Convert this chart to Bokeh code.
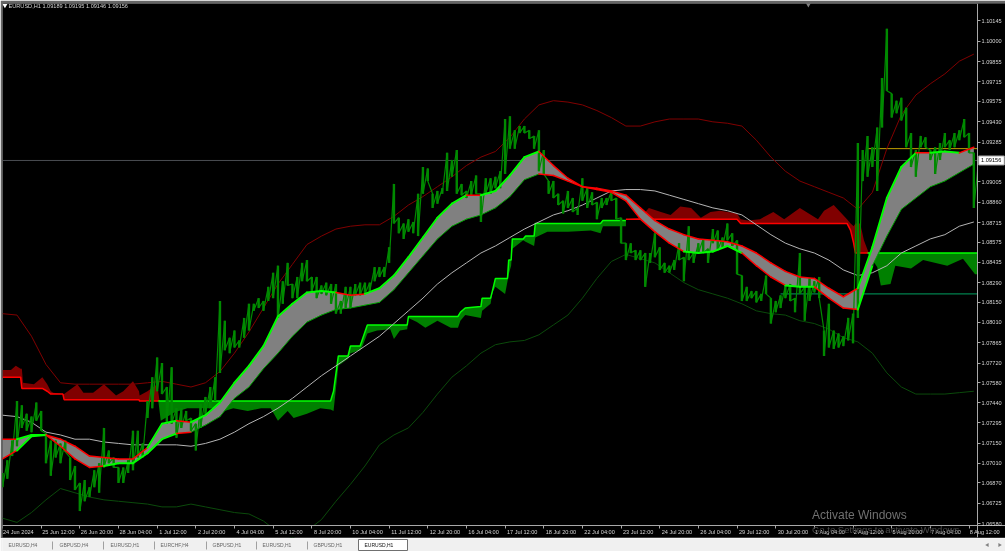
import numpy as np
from bokeh.plotting import figure
from bokeh.layouts import column
from bokeh.models import Range1d, FixedTicker, Label, LinearAxis
from bokeh.core.properties import value
from bokeh.embed import file_html
from bokeh.resources import INLINE

# all prices are held in pips (price * 10000); x is the bar number on the H1 chart
BAR_STEP = 4
HIGH = [10694,10703,10717,10745,10742,10736,10734,10744,10738,10722,
10717,10717,10715,10717,10705,10699,10687,10689,10684,10696,
10701,10726,10710,10705,10698,10698,10703,10724,10724,10715,
10745,10762,10776,10772,10755,10769,10740,10740,10738,10733,
10729,10743,10748,10755,10762,10816,10802,10790,10795,10788,
10804,10814,10814,10818,10816,10826,10836,10841,10830,10843,
10828,10833,10843,10845,10833,10833,10827,10829,10828,10828,
10816,10826,10826,10828,10829,10829,10829,10840,10840,10840,
10854,10899,10875,10871,10874,10872,10892,10911,10910,10892,
10894,10896,10921,10916,10923,10899,10894,10901,10905,10892,
10903,10903,10904,10908,10945,10947,10937,10940,10940,10937,
10933,10937,10923,10901,10901,10892,10887,10894,10889,10882,
10903,10896,10893,10886,10889,10889,10894,10889,10875,10857,
10857,10852,10852,10850,10850,10864,10854,10843,10841,10845,
10857,10847,10869,10850,10857,10860,10853,10867,10866,10861,
10871,10864,10859,10834,10826,10823,10823,10821,10834,10818,
10816,10820,10827,10828,10818,10850,10826,10832,10830,10833,
10795,10814,10795,10793,10791,10804,10807,10928,10923,10933,
10925,10939,10974,11009,10963,10958,10960,10953,10935,10923,
10933,10932,10923,10925,10928,10935,10930,10935,10937,10945,
10935,10921,10916]
LOW = [10684,10690,10706,10713,10726,10724,10723,10731,10724,10701,
10692,10705,10701,10709,10689,10682,10667,10674,10677,10684,
10680,10698,10701,10698,10687,10687,10694,10696,10705,10705,
10733,10740,10752,10750,10729,10729,10719,10726,10731,10724,
10710,10726,10736,10740,10745,10765,10781,10779,10783,10783,
10790,10795,10809,10811,10809,10816,10818,10804,10814,10827,
10818,10818,10830,10830,10823,10818,10821,10820,10814,10807,
10807,10811,10811,10820,10820,10821,10823,10830,10833,10833,
10843,10871,10864,10860,10865,10864,10862,10892,10901,10882,
10885,10892,10894,10904,10892,10891,10889,10891,10892,10872,
10892,10892,10896,10896,10906,10924,10924,10935,10935,10931,
10924,10908,10906,10892,10889,10884,10878,10882,10879,10877,
10887,10882,10884,10874,10882,10884,10887,10874,10857,10845,
10850,10845,10845,10826,10843,10847,10838,10836,10836,10838,
10845,10830,10845,10843,10850,10850,10843,10857,10852,10854,
10859,10855,10835,10816,10816,10818,10815,10816,10821,10800,
10808,10811,10818,10816,10808,10821,10802,10816,10822,10818,
10777,10783,10782,10783,10784,10788,10786,10804,10901,10904,
10911,10894,10939,10965,10946,10949,10944,10925,10911,10904,
10925,10925,10916,10906,10916,10925,10923,10925,10930,10932,
10921,10882,10907]

RIBBON_STEP = 12
RIBBON_UP = [10718,10718,10721,10721,10718,10713,10706,10705,10704,10704,
10712,10729,10731,10730,10735,10744,10758,10770,10784,10805,
10814,10822,10823,10822,10820,10821,10825,10834,10847,10861,
10875,10885,10891,10891,10894,10905,10918,10922,10912,10903,
10897,10896,10894,10891,10882,10873,10867,10863,10860,10859,
10858,10855,10850,10843,10837,10833,10832,10825,10819,10825,
10854,10889,10911,10921,10921,10922,10921,10925]
RIBBON_LO = [10704,10710,10720,10721,10713,10704,10698,10699,10701,10701,
10708,10718,10722,10723,10728,10734,10747,10755,10768,10779,
10791,10801,10806,10810,10811,10813,10815,10824,10836,10848,
10860,10869,10874,10877,10882,10890,10902,10906,10905,10901,
10897,10895,10893,10887,10874,10865,10857,10851,10850,10851,
10855,10850,10841,10833,10827,10826,10826,10818,10811,10810,
10841,10862,10881,10889,10897,10901,10907,10913]
# state of each ribbon edge between samples: r falling, l rising fast, g rising slow
UP_STATE = "r"+"ll"+"r"*7+"ll"+"r"+"l"*10+"rr"+"l"*7+"r"+"l"*4+"r"*22+"l"*4+"r"+"ll"+"r"
LO_STATE = "r"+"ll"+"r"*4+"l"*5+"r"+"g"*24+"r"*10+"l"*4+"rrr"+"ll"+"rrr"+"l"+"g"*7

BAND_MID = [10735,10734,10730,10723,10721,10718,10718,10716,10715,10714,
10714,10714,10714,10713,10715,10718,10723,10729,10734,10740,
10747,10755,10763,10770,10777,10784,10791,10800,10809,10818,
10828,10836,10843,10850,10855,10861,10867,10872,10877,10880,
10884,10889,10894,10895,10895,10894,10891,10888,10885,10882,
10880,10877,10870,10863,10857,10853,10850,10845,10838,10834,
10836,10841,10850,10855,10860,10863,10869,10872]
BAND_TOP = [10807,10806,10791,10771,10758,10757,10757,10757,10757,10757,
10758,10759,10757,10755,10758,10766,10779,10794,10811,10828,
10842,10856,10862,10867,10869,10870,10870,10876,10884,10890,
10897,10904,10912,10918,10922,10932,10945,10955,10958,10957,
10955,10951,10946,10940,10940,10943,10945,10945,10945,10943,
10942,10940,10930,10918,10908,10901,10897,10893,10889,10881,
10893,10924,10948,10962,10970,10977,10986,10991]
BAND_BOT = [10662,10659,10666,10675,10683,10680,10677,10675,10674,10673,
10672,10670,10670,10672,10670,10668,10666,10665,10660,10652,
10648,10653,10661,10674,10686,10699,10714,10721,10726,10737,
10750,10762,10770,10779,10785,10787,10788,10792,10799,10806,
10818,10832,10844,10849,10846,10843,10836,10829,10824,10821,
10818,10814,10809,10807,10806,10802,10800,10796,10790,10787,
10779,10765,10755,10750,10750,10750,10751,10752]

SUP1_X = [129,131,142,153,164,175,180,191,203,214,222,228,236,241,252,263,271.5,274,278,286,288,296,298,302,310,321,324,329,335,336,343,350,360,371,377,379,383,396,397,404,405.5,408,416,418,419,421,422,431,433,440,441,451,468,487,495,497,516]
SUP1_LEVEL = [10745]*17+[10752,10777,10777,10784,10784,10789,10799,10799,10799,10799,10799,10799,10805,10805,10805,10805,10805,10805,10808,10811,10812,10818,10818,10823,10832,10832,10832,10845,10845,10860,10860,10862,10862,10871,10871,10871,10871,10871,10873,10873]
SUP1_LOW = [10745,10731,10737,10740,10740,10740,10737,10740,10738,10740,10740,10731,10738,10733,10736,10740,10739,10738,10770,10775,10779,10781,10784,10793,10795,10796,10789,10795,10796,10804,10801,10797,10802,10797,10797,10802,10806,10804,10809,10814,10822,10826,10821,10830,10835,10841,10853,10859,10858,10855,10861,10865,10865,10866,10864,10869,10869]
SUP2_X = [716,724,727,735,739,752,762,782,795,805,807]
SUP2_LEVEL = [10850]*11
SUP2_LOW = [10850,10840,10827,10828,10841,10839,10845,10841,10846,10835,10835]

RES1_X = [0,7,11,15,16,17,26,33,37,40,42,50,51,62,67,75,84,94,100,108,113,113.5,120,128,130]
RES1_LEVEL = [10762,10762,10762,10762,10754,10754,10754,10754,10752,10750,10750,10750,10746,10746,10746,10746,10746,10746,10746,10746,10746,10745,10745,10745,10745]
RES1_TOP = [10767,10767,10770,10768,10768,10758,10757,10762,10757,10752,10751,10750,10750,10757,10751,10751,10757,10749,10752,10759,10752,10749,10752,10757,10745]
RES2_X = [516,528,535,545,553,561,570,578,586,594,608,611,617,627,638,647,660,675,680,688,699,702,704.5,706,710,713,717]
RES2_LEVEL = [10874]*11+[10871]*10+[10866,10857,10850,10850,10850,10850]
RES2_TOP = [10874,10875,10882,10879,10877,10883,10882,10875,10879,10880,10878,10874,10873,10874,10879,10874,10882,10874,10880,10884,10874,10871,10869,10871,10871,10859,10850]

LAST_PRICE = 1.09156
YELLOW_LEVEL, YELLOW_FROM = 1.0924, 716
TEAL_LEVEL, TEAL_FROM = 1.0821, 644
LEFT_BAR, RIGHT_BAR = 0, 807
AXIS_PRICE = 1.06568

TIME_LABELS = ["24 Jun 2024","25 Jun 12:00","26 Jun 20:00","28 Jun 04:00","1 Jul 12:00","2 Jul 20:00","4 Jul 04:00","5 Jul 12:00","8 Jul 20:00","10 Jul 04:00","11 Jul 12:00","12 Jul 20:00","16 Jul 04:00","17 Jul 12:00","18 Jul 20:00","22 Jul 04:00","23 Jul 12:00","24 Jul 20:00","26 Jul 04:00","29 Jul 12:00","30 Jul 20:00","1 Aug 04:00","2 Aug 12:00","5 Aug 20:00","7 Aug 04:00","8 Aug 12:00"]
TIME_TICK_STEP = 32
PRICE_TICKS = [1.10145,1.10000,1.09855,1.09715,1.09575,1.09430,1.09285,1.09005,1.08860,1.08715,1.08575,1.08435,1.08290,1.08150,1.08010,1.07865,1.07720,1.07580,1.07440,1.07295,1.07150,1.07010,1.06870,1.06725,1.06580]
TABS = ["EURUSD,H4","GBPUSD,H4","EURUSD,H1","EURCHF,H4","GBPUSD,H1","EURUSD,H1","GBPUSD,H1","EURUSD,H1"]

FONT = "Liberation Sans"
TXT = "#d4d4d4"
pr = lambda a: np.asarray(a, float) / 1e4

VIEW_X_END, VIEW_Y_START = 830.2, 1.06483
p = figure(width=1005, height=538, output_backend="svg", toolbar_location=None,
           x_range=Range1d(LEFT_BAR, VIEW_X_END), y_range=Range1d(VIEW_Y_START, 1.10269),
           y_axis_location="right", min_border_left=2, min_border_top=3,
           min_border_right=0, min_border_bottom=1,
           background_fill_color="#000000", border_fill_color="#666666",
           outline_line_color=None)
p.grid.visible = False

# resistance and support blocks
for xs, lev, ext, col, edge in [(RES1_X, RES1_LEVEL, RES1_TOP, "#800000", "#ff0000"),
                                (RES2_X, RES2_LEVEL, RES2_TOP, "#800000", "#ff0000"),
                                (SUP1_X, SUP1_LEVEL, SUP1_LOW, "#008000", "#00ff00"),
                                (SUP2_X, SUP2_LEVEL, SUP2_LOW, "#008000", "#00ff00")]:
    p.varea(xs, pr(lev), pr(ext), fill_color=col)
    p.line(xs, pr(lev), line_color=edge, line_width=1.5)

# horizontal levels
p.line([LEFT_BAR, RIGHT_BAR], [LAST_PRICE]*2, line_color="#4a4d52", line_width=1)
p.line([YELLOW_FROM, RIGHT_BAR], [YELLOW_LEVEL]*2, line_color="#c0a000", line_width=1)
p.line([TEAL_FROM, RIGHT_BAR], [TEAL_LEVEL]*2, line_color="#00a060", line_width=1)

# envelope lines
rx = np.arange(len(RIBBON_UP)) * RIBBON_STEP
p.line(rx, pr(BAND_TOP), line_color="#800000", line_width=1)
p.line(rx, pr(BAND_BOT), line_color="#0b4a0b", line_width=1)
p.line(rx, pr(BAND_MID), line_color="#b4b4b4", line_width=1)

# ribbon
p.varea(rx, pr(RIBBON_UP), pr(RIBBON_LO), fill_color="#808080")

# price: bar ranges, joined by a thin line
bars = np.arange(len(HIGH)) * BAR_STEP
p.segment(bars, pr(HIGH), bars, pr(LOW), line_color="#008a00", line_width=2.4)
zig_x = np.repeat(bars, 2)
zig_y = np.column_stack((HIGH, LOW)).ravel() / 1e4
p.line(zig_x, zig_y, line_color="#008a00", line_width=1.2)

# ribbon edges
col = {"r": "#ff0000", "l": "#00ff00", "g": "#00a000"}
wid = {"r": 1.5, "l": 2.0, "g": 1.0}
for edge, state in ((RIBBON_LO, LO_STATE), (RIBBON_UP, UP_STATE)):
    e = pr(edge)
    p.segment(rx[:-1], e[:-1], rx[1:], e[1:], line_color=[col[s] for s in state],
              line_width=[wid[s] for s in state], line_cap="round")

# the chart ends at the axes: keep the label margins black
p.quad(left=[RIGHT_BAR, LEFT_BAR], right=[VIEW_X_END, VIEW_X_END],
       bottom=[VIEW_Y_START, VIEW_Y_START], top=[1.10269, AXIS_PRICE],
       fill_color="#000000", line_color=None)

# axes sit at fixed places inside the frame so their margins can carry texts too
time_ticks = [i * TIME_TICK_STEP for i in range(len(TIME_LABELS))]
ax = p.xaxis[0]
ax.fixed_location = AXIS_PRICE
ax.ticker = FixedTicker(ticks=time_ticks)
ax.major_label_overrides = {t_: "" for t_ in time_ticks}
label_pos = [t_ + 1.0 + 1.1 * len(s) for t_, s in zip(time_ticks, TIME_LABELS)]
al = LinearAxis(ticker=FixedTicker(ticks=label_pos), fixed_location=AXIS_PRICE - 0.00018,
                major_label_overrides=dict(zip(label_pos, TIME_LABELS)),
                axis_line_color=None, major_tick_line_color=None, minor_tick_line_color=None,
                major_tick_in=0, major_tick_out=0, major_label_standoff=1,
                major_label_text_font=FONT, major_label_text_font_size="5.6px",
                major_label_text_color=TXT)
p.add_layout(al, "below")

ay = p.yaxis[0]
ay.fixed_location = RIGHT_BAR
ay.ticker = FixedTicker(ticks=PRICE_TICKS)
ay.major_label_overrides = {v: f"{v:.5f}" for v in PRICE_TICKS}
for a in (ax, ay):
    a.axis_line_color = "#a8a8a8"
    a.major_tick_line_color = "#a8a8a8"
    a.minor_tick_line_color = None
    a.major_tick_in = 0
    a.major_tick_out = 3
ay.major_label_standoff = 1
ay.major_label_text_font = FONT
ay.major_label_text_font_size = "5.6px"
ay.major_label_text_color = TXT

# small chrome on the chart
p.scatter([2], [1.10255], marker="inverted_triangle", size=5, fill_color="#ffffff", line_color=None)
p.scatter([667], [1.10266], marker="inverted_triangle", size=6, fill_color="#808080", line_color=None)
p.add_layout(Label(x=5, y=1.10254, text="EURUSD,H1  1.09189 1.09195 1.09146 1.09156", text_font=FONT,
                   text_font_size="5.6px", text_color=TXT, text_baseline="middle"))
p.quad(left=[RIGHT_BAR + 1], right=[VIEW_X_END - 1], bottom=[LAST_PRICE - 0.00032], top=[LAST_PRICE + 0.00032],
       fill_color="#ffffff", line_color="#a0a0a0", line_width=1)
p.text(x=[RIGHT_BAR + 3], y=[LAST_PRICE], text=["1.09156"], text_font=value(FONT), text_font_size="5.6px",
       text_color="#000000", text_baseline="middle")
p.add_layout(Label(x=670, y=1.0664, text="Activate Windows", text_font=FONT, text_font_size="12px",
                   text_color="#707070", text_baseline="middle"))
p.add_layout(Label(x=670, y=1.06541, text="Go to Settings to activate Windows.", text_font=FONT,
                   text_font_size="9.5px", text_color="#4a4a4a", text_baseline="middle"))

# tab strip: its frame lines up with the chart's frame, two pixels in from the left
t = figure(width=1005, height=13, output_backend="svg", toolbar_location=None,
           x_range=Range1d(2, 1005), y_range=Range1d(13, 0),
           min_border=0, min_border_left=2, background_fill_color="#f0f0f0", border_fill_color="#f0f0f0",
           outline_line_color=None)
t.axis.visible = False
t.grid.visible = False
t.quad(left=[358], right=[407], top=[1], bottom=[12], fill_color="#ffffff", line_color="#707070")
t.segment(x0=[52,103,154,206,256,307], y0=[3]*6, x1=[52,103,154,206,256,307], y1=[11]*6, line_color="#a0a0a0")
t.text(x=[8,59,110,160,212,262,313,364], y=[6.5]*8, text=TABS, text_font=value("Liberation Sans"),
       text_font_size="5px", text_color=["#666666"]*7+["#111111"], text_baseline="middle")
t.scatter([987, 999], [6.5, 6.5], marker="triangle", size=4, fill_color="#808080", line_color=None,
          angle=[np.pi/2, -np.pi/2])

page = column(p, t, spacing=0, styles={"position": "fixed", "left": "0", "top": "0"})
open("out.html", "w").write(file_html(page, INLINE))
